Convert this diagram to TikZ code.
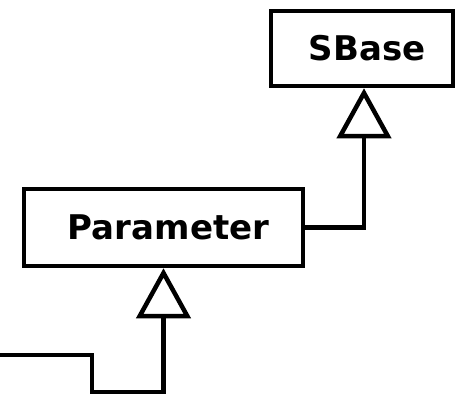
\documentclass[tikz,border=0pt]{standalone}
\usepackage{fontspec}
\setsansfont{DejaVu Sans}
\usetikzlibrary{arrows.meta}
\begin{document}
\begin{tikzpicture}[x=1pt,y=-1pt,
  classbox/.style={draw, line width=4.5pt, fill=white, inner sep=0pt},
  classname/.style={font=\sffamily\bfseries\fontsize{34}{36}\selectfont},
  inherit/.style={line width=4.5pt, -{Triangle[open, width=54pt, length=50pt]}}]
  \useasboundingbox (0,0) rectangle (460,397);
  % classes
  \node[classbox, minimum width=182pt, minimum height=75pt] (sbase) at (362,48.5) {};
  \node[classname] (sbasename) at ([xshift=5pt]sbase.center) {SBase};
  \node[classbox, minimum width=279pt, minimum height=77pt] (param) at (163.5,227.5) {};
  \node[classname] (paramname) at ([xshift=5pt]param.center) {Parameter};
  % generalisation links
  \draw[inherit] (param.east) -| ([xshift=2pt]sbase.south);
  \coordinate (sub) at (0,355);
  \draw[inherit] (sub) -- (92,355) -- (92,392) -| (param.south);
\end{tikzpicture}
\end{document}
